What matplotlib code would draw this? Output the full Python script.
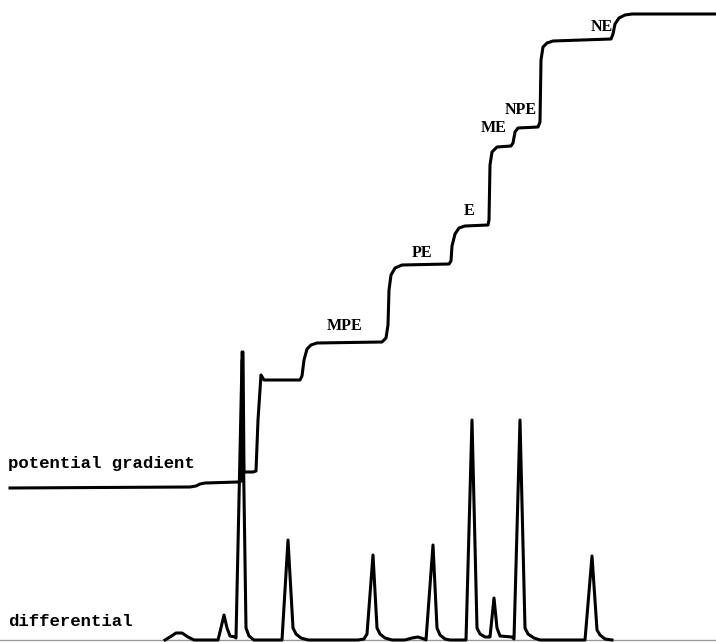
import matplotlib.pyplot as plt
import numpy as np

# potential gradient trace (x = time position, y = level, picture units, y grows down)
pot_x = [10, 190, 196, 200, 205, 238, 241, 242, 242, 243, 244, 253, 256, 258, 261, 264,
         300, 302, 304, 307, 311, 317, 382, 386, 388, 389, 391, 395, 402, 449, 451, 452,
         455, 459, 465, 488, 489, 490, 492, 497, 511, 513, 515, 518, 538, 540, 541, 543,
         547, 553, 611, 613, 615, 619, 625, 632, 716]
pot_y = [488, 487, 486, 484, 483, 482, 481, 481, 352, 352, 472, 472, 471, 420, 375, 380,
         380, 376, 360, 349, 345, 343, 342, 338, 325, 290, 275, 268, 265, 264, 261, 246,
         234, 228, 226, 225, 220, 165, 152, 147, 146, 143, 132, 128, 127, 122, 60, 47,
         43, 41, 39, 34, 24, 18, 15, 14, 14]

# differential trace
dif_x = [165, 170, 176, 182, 188, 194, 218, 220, 224, 227, 230, 235, 236, 242, 246, 249,
         254, 282, 288, 293, 296, 301, 308, 358, 364, 367, 373, 377, 380, 385, 392, 405,
         412, 418, 424, 426, 433, 437, 440, 445, 450, 466, 472, 477, 480, 485, 489, 490,
         494, 497, 500, 512, 514, 520, 525, 528, 534, 540, 585, 592, 597, 600, 605, 612]
dif_y = [640, 637, 633, 633, 637, 640, 640, 632, 615, 628, 636, 637, 638, 360, 628, 636,
         640, 640, 540, 628, 634, 638, 640, 640, 639, 634, 555, 628, 634, 638, 640, 640,
         638, 637, 639, 640, 545, 628, 635, 639, 640, 640, 420, 628, 634, 637, 637, 637,
         598, 628, 636, 637, 639, 420, 628, 634, 638, 640, 640, 556, 630, 635, 639, 640]

# zone labels
zone_names = ['MPE', 'PE', 'E', 'ME', 'NPE', 'NE']
zone_x = [345, 422, 469, 494, 521, 602]
zone_y = [326, 253, 211, 128, 110, 27]

fig = plt.figure(figsize=(7.16, 6.42), dpi=100)
ax = fig.add_axes([0, 0, 1, 1])
ax.set_xlim(0, 716)
ax.set_ylim(642, 0)
ax.axis('off')

ax.plot([0, 716], [640, 640], color='#999999', lw=1)
ax.plot(dif_x, dif_y, color='black', lw=2.2, solid_joinstyle='round')
ax.plot(pot_x, pot_y, color='black', lw=2.2, solid_joinstyle='round')

for name, x, y in zip(zone_names, zone_x, zone_y):
    ax.text(x, y, name, family='Liberation Serif', fontsize=11.5, fontweight='bold',
            ha='center', va='center')

ax.text(8, 468, 'potential gradient', family='Liberation Mono', fontsize=12.5,
        fontweight='bold', ha='left', va='baseline')
ax.text(8, 626, 'differential', family='Liberation Mono', fontsize=12.5,
        fontweight='bold', ha='left', va='baseline')

plt.savefig('out.png', dpi=100)
